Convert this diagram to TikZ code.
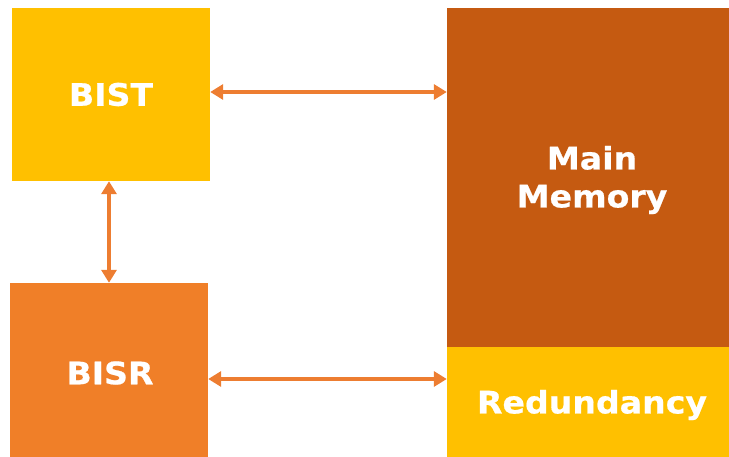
\documentclass[tikz,border=0pt]{standalone}
\usepackage{fontspec}
\newfontfamily\boxfont[FakeStretch=1.07,BoldFeatures={FakeBold=0.6}]{DejaVu Sans}
\usetikzlibrary{arrows.meta}
\definecolor{amber}{HTML}{FFC000}
\definecolor{rust}{HTML}{C55A11}
\definecolor{orangebox}{HTML}{F07F28}
\definecolor{arrowc}{HTML}{ED7D31}
\begin{document}
\begin{tikzpicture}[x=1pt,y=1pt,
  blockbox/.style={inner sep=0pt, draw=none, text=white, align=center,
    font=\boxfont\bfseries\fontsize{31}{38}\selectfont},
  arr/.style={draw=arrowc, line width=4.2pt,
    {Triangle[length=13pt,width=15pt]}-{Triangle[length=13pt,width=15pt]}}]
\useasboundingbox (0,0) rectangle (729,-457);
\node[blockbox, fill=amber, minimum width=198pt, minimum height=173pt] (bist) at (111,-94.5) {BIST};
\node[blockbox, fill=rust, minimum width=282pt, minimum height=339pt] (mem) at (588,-177.5) {};
\node[text=white, align=center, font=\boxfont\bfseries\fontsize{31}{38}\selectfont] (memtxt) at (592,-180) {Main\\Memory};
\node[blockbox, fill=amber, minimum width=282pt, minimum height=110pt] (red) at (588,-402) {};
\node[text=white, font=\boxfont\bfseries\fontsize{31}{38}\selectfont] (redtxt) at (592,-405) {Redundancy};
\node[blockbox, fill=orangebox, minimum width=198pt, minimum height=174pt] (bisr) at (109,-370) {};
\node[text=white, font=\boxfont\bfseries\fontsize{31}{38}\selectfont] (bisrtxt) at (110,-373) {BISR};
\draw[arr] ([yshift=2.5pt]bist.east) -- ([yshift=2.5pt]bist.east -| mem.west);
\draw[arr] (bist.south -| bisr.north) -- (bisr.north);
\draw[arr] ([yshift=-9pt]bisr.east) -- ([yshift=-9pt]bisr.east -| red.west);
\end{tikzpicture}
\end{document}
